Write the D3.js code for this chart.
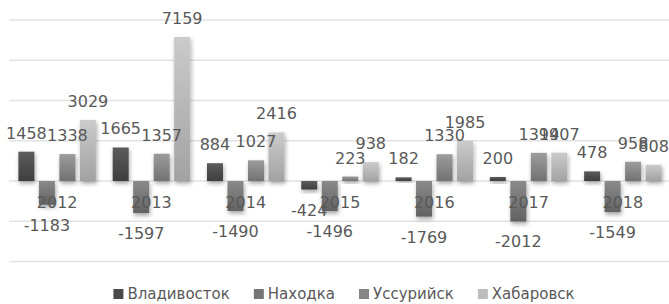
<!DOCTYPE html>
<html><head><meta charset="utf-8">
<script src="https://cdn.jsdelivr.net/npm/d3@7"></script>
<style>
html,body{margin:0;padding:0;background:#fff;}
svg{display:block;}
</style></head>
<body>
<svg id="chart" width="669" height="304"></svg>
<script>
const categories = ["2012","2013","2014","2015","2016","2017","2018"];
const seriesNames = ["Владивосток","Находка","Уссурийск","Хабаровск"];
const vladivostok = [1458,1665,884,-424,182,200,478];
const nakhodka   = [-1183,-1597,-1490,-1496,-1769,-2012,-1549];
const ussuriysk  = [1338,1357,1027,223,1330,1399,958];
const khabarovsk = [3029,7159,2416,938,1985,1407,808];
const gridTicks = [-4000,-2000,0,2000,4000,6000,8000];

const seriesValues = [vladivostok, nakhodka, ussuriysk, khabarovsk];
const grads = [["#5c5c5c","#3e3e3e"],["#8a8a8a","#626262"],["#9c9c9c","#727272"],["#cbcbcb","#a2a2a2"]];
const legendColors = ["#4a4a4a","#757575","#858585","#bdbdbd"];

const svg = d3.select("#chart");
const defs = svg.append("defs");
grads.forEach((g,i)=>{
  const lg = defs.append("linearGradient").attr("id","g"+i).attr("x1",0).attr("y1",0).attr("x2",0).attr("y2",1);
  lg.append("stop").attr("offset","0%").attr("stop-color",g[0]);
  lg.append("stop").attr("offset","100%").attr("stop-color",g[1]);
});
const f = defs.append("filter").attr("id","sh").attr("x","-50%").attr("y","-50%").attr("width","200%").attr("height","200%");
f.append("feDropShadow").attr("dx",1).attr("dy",2.5).attr("stdDeviation",2).attr("flood-color","#000").attr("flood-opacity",0.35);

const y = d3.scaleLinear().domain([-4000,8000]).range([261.5,20]);
const x0 = d3.scaleBand().domain(categories).range([10,670]).padding(0);
const x1 = d3.scaleBand().domain(seriesNames).range([0,x0.bandwidth()]).paddingInner(0.22).paddingOuter(0.41);

svg.append("g").selectAll("line").data(gridTicks).join("line")
  .attr("x1",9).attr("x2",669)
  .attr("y1",d=>y(d)).attr("y2",d=>y(d))
  .attr("stroke","#e2e2e2").attr("stroke-width",1.5);

const bars = svg.append("g");
seriesNames.forEach((s,si)=>{
  bars.append("g").selectAll("rect").data(seriesValues[si]).join("rect")
    .attr("x",(d,i)=>x0(categories[i])+x1(s))
    .attr("width",x1.bandwidth())
    .attr("y",d=>y(Math.max(0,d)))
    .attr("height",d=>Math.abs(y(d)-y(0)))
    .attr("fill","url(#g"+si+")")
    .attr("filter","url(#sh)");
});

const font = "DejaVu Sans";
svg.append("g").selectAll("text").data(categories).join("text")
  .attr("x",d=>x0(d)+x0.bandwidth()/2)
  .attr("y",y(0)+27)
  .attr("text-anchor","middle")
  .attr("font-family",font).attr("font-size",16)
  .attr("fill","#595959")
  .text(d=>d);

seriesNames.forEach((s,si)=>{
  svg.append("g").selectAll("text").data(seriesValues[si]).join("text")
    .attr("x",(d,i)=>x0(categories[i])+x1(s)+x1.bandwidth()/2)
    .attr("y",d=>d>=0 ? y(d)-13 : y(d)+26)
    .attr("text-anchor","middle")
    .attr("font-family",font).attr("font-size",16)
    .attr("fill","#595959")
    .text(d=>d);
});

// legend
const lg = svg.append("g");
const items = lg.selectAll("g").data(seriesNames).join("g");
items.append("rect").attr("width",10).attr("height",10).attr("y",-10)
  .attr("fill",(d,i)=>legendColors[i]);
items.append("text").attr("x",14).attr("y",0)
  .attr("font-family",font).attr("font-size",15)
  .attr("fill","#595959").text(d=>d);
let xpos = 0;
const gap = 24;
items.each(function(){
  const w = this.getBBox().width;
  d3.select(this).attr("transform",`translate(${xpos},299)`);
  xpos += w + gap;
});
const total = xpos - gap;
lg.attr("transform",`translate(${(113+575)/2 - total/2},0)`);
</script>
</body></html>
